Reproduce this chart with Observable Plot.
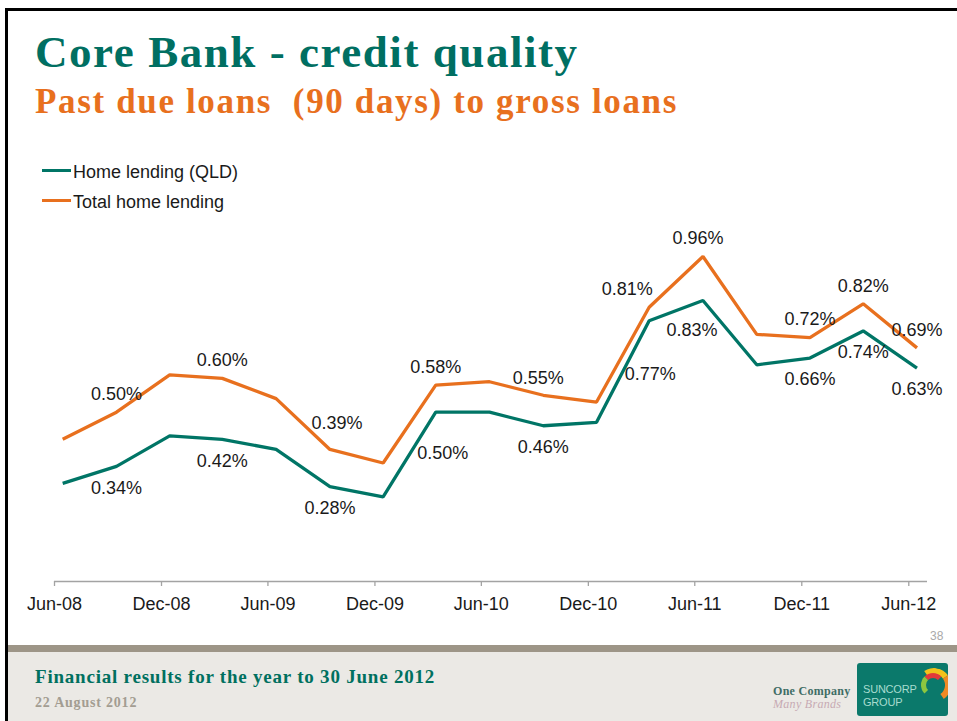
<!DOCTYPE html>
<html>
<head>
<meta charset="utf-8">
<script src="https://cdn.jsdelivr.net/npm/d3@7"></script>
<script src="https://cdn.jsdelivr.net/npm/@observablehq/plot@0.6"></script>
<style>
  html, body { margin: 0; padding: 0; background: #fff; }
  body { width: 957px; height: 721px; position: relative; overflow: hidden; }
  .abs { position: absolute; white-space: nowrap; }
  .serif { font-family: "Liberation Serif", "DejaVu Serif", serif; font-weight: bold; }
  .sans { font-family: "Liberation Sans", Arial, sans-serif; }
</style>
</head>
<body>
<div class="abs" style="left:0;top:652px;width:957px;height:69px;background:#ebe9e5;"></div>
<div class="abs" style="left:0;top:645px;width:957px;height:7px;background:#9d9587;"></div>
<div class="abs" style="left:0;top:0;width:5px;height:721px;background:#fff;"></div>
<div class="abs" style="left:5px;top:8px;width:3px;height:713px;background:#000;"></div>
<div class="abs" style="left:5px;top:8px;width:952px;height:3px;background:#000;"></div>

<div class="abs serif" id="title" style="left:35px;top:30px;font-size:45px;line-height:45px;color:#006f62;letter-spacing:1.55px;">Core Bank - credit quality</div>
<div class="abs serif" id="subtitle" style="left:35px;top:84px;font-size:35px;line-height:35px;color:#e8701e;letter-spacing:1.65px;">Past due loans&nbsp; (90 days) to gross loans</div>

<div id="legend"></div>
<div class="abs" id="chart" style="left:0;top:220px;"></div>

<div class="abs sans" style="left:930px;top:629px;font-size:12px;line-height:14px;color:#a9a9a9;">38</div>
<div class="abs serif" style="left:35px;top:667px;font-size:19px;line-height:19px;color:#00705f;letter-spacing:0.78px;">Financial results for the year to 30 June 2012</div>
<div class="abs serif" style="left:35px;top:696px;font-size:14px;line-height:14px;color:#a39d92;letter-spacing:0.8px;">22 August 2012</div>

<div class="abs serif" style="left:773px;top:685px;font-size:12px;line-height:12px;color:#3f6d66;letter-spacing:0.3px;">One Company</div>
<div class="abs serif" style="left:773px;top:698px;font-size:12px;line-height:12px;color:#c7aab3;font-weight:normal;font-style:italic;letter-spacing:0.3px;">Many Brands</div>
<div class="abs" style="left:857px;top:663px;width:91px;height:53px;background:#0b796b;border-radius:3px;overflow:hidden;">
  <div class="abs" style="left:60px;top:5px;width:34px;height:34px;border-radius:50%;border:6px solid transparent;border-top-color:#f2c21b;border-right-color:#f08a24;box-sizing:border-box;transform:rotate(10deg);"></div>
  <div class="abs" style="left:64px;top:10px;width:24px;height:24px;border-radius:50%;border:5px solid transparent;border-top-color:#e23a3a;border-left-color:#8cc63f;box-sizing:border-box;"></div>
  <div class="abs sans" style="left:6px;top:21px;font-size:11px;line-height:11px;color:#a7dccf;letter-spacing:-0.2px;">SUNCORP</div>
  <div class="abs sans" style="left:6px;top:34px;font-size:11px;line-height:11px;color:#a7dccf;letter-spacing:-0.2px;">GROUP</div>
</div>

<script>
// ---- data ----
const quarters = ["2008-06","2008-09","2008-12","2009-03","2009-06","2009-09","2009-12","2010-03","2010-06","2010-09","2010-12","2011-03","2011-06","2011-09","2011-12","2012-03","2012-06"];
const homeLendingQLD = [0.29,0.34,0.43,0.42,0.39,0.28,0.25,0.50,0.50,0.46,0.47,0.77,0.83,0.64,0.66,0.74,0.63];
const totalHomeLending = [0.42,0.50,0.61,0.60,0.54,0.39,0.35,0.58,0.59,0.55,0.53,0.81,0.96,0.73,0.72,0.82,0.69];
const labelledQuarters = ["2008-09","2009-03","2009-09","2010-03","2010-09","2011-03","2011-06","2011-12","2012-03","2012-06"];
const tickMonths = ["2008-06","2008-12","2009-06","2009-12","2010-06","2010-12","2011-06","2011-12","2012-06"];
const tickLabels = ["Jun-08","Dec-08","Jun-09","Dec-09","Jun-10","Dec-10","Jun-11","Dec-11","Jun-12"];
const seriesNames = ["Home lending (QLD)","Total home lending"];

// ---- styling / layout ----
const colors = {"Home lending (QLD)": "#007566", "Total home lending": "#e8701e"};
const labelOffset = {"Home lending (QLD)": [0, 21.5], "Total home lending": [0, -18]};
const labelNudge = {
  "Total home lending|2009-09": [7, -26],
  "Total home lending|2010-09": [-5, -17],
  "Total home lending|2011-03": [-22, -18],
  "Total home lending|2011-06": [-5, -18],
  "Home lending (QLD)|2010-03": [7, 41],
  "Home lending (QLD)|2011-03": [1, 53],
  "Home lending (QLD)|2011-06": [-11, 30]
};

const parseMonth = d3.utcParse("%Y-%m");
const midMonth = m => d3.utcDay.offset(parseMonth(m), 14);

const rows = [];
quarters.forEach((q, i) => {
  rows.push({series: seriesNames[0], quarter: q, date: midMonth(q), value: homeLendingQLD[i]});
  rows.push({series: seriesNames[1], quarter: q, date: midMonth(q), value: totalHomeLending[i]});
});
const labelRows = rows.filter(r => labelledQuarters.includes(r.quarter));

const tickDates = tickMonths.map(parseMonth);
const tickLabelMap = new Map(tickDates.map((d, i) => [+d, tickLabels[i]]));

// legend (HTML, above chart)
const legend = document.getElementById("legend");
seriesNames.forEach((name, i) => {
  const top = 163 + i * 29.5;
  legend.insertAdjacentHTML("beforeend",
    `<div class="abs" style="left:42px;top:${top + 6}px;width:29px;height:3px;background:${colors[name]};"></div>` +
    `<div class="abs sans" style="left:73px;top:${top}px;font-size:18px;line-height:18px;color:#1a1a1a;">${name}</div>`);
});

const textMarks = labelRows.map(r => {
  const [dx, dy] = labelNudge[r.series + "|" + r.quarter] || labelOffset[r.series];
  return Plot.text([r], {x: "date", y: "value", text: d => d.value.toFixed(2) + "%", dx, dy,
    fill: "#1a1a1a", fontSize: 18});
});

const chart = Plot.plot({
  width: 957,
  height: 420,
  marginLeft: 54,
  marginRight: 30,
  marginTop: 22.4,
  marginBottom: 59,
  x: {type: "utc", domain: [parseMonth("2008-06"), new Date(Date.UTC(2012, 6, 3))]},
  y: {domain: [0, 1], axis: null},
  style: {fontFamily: "'Liberation Sans', Arial, sans-serif", fontSize: "18px", background: "transparent", color: "#1a1a1a", overflow: "visible"},
  marks: [
    Plot.ruleY([0], {stroke: "#a3a3a3", strokeWidth: 1.3}),
    Plot.axisX({ticks: tickDates, tickFormat: d => tickLabelMap.get(+d), tickSize: 5, tickPadding: 11,
      stroke: "#a3a3a3", strokeOpacity: 1, strokeWidth: 1.3, fill: "#1a1a1a", fontSize: 18, label: null}),
    Plot.line(rows, {x: "date", y: "value", z: "series", stroke: d => colors[d.series], strokeWidth: 3.3, strokeLinejoin: "miter", strokeLinecap: "butt"}),
    ...textMarks
  ]
});
document.getElementById("chart").appendChild(chart);
</script>
</body>
</html>
